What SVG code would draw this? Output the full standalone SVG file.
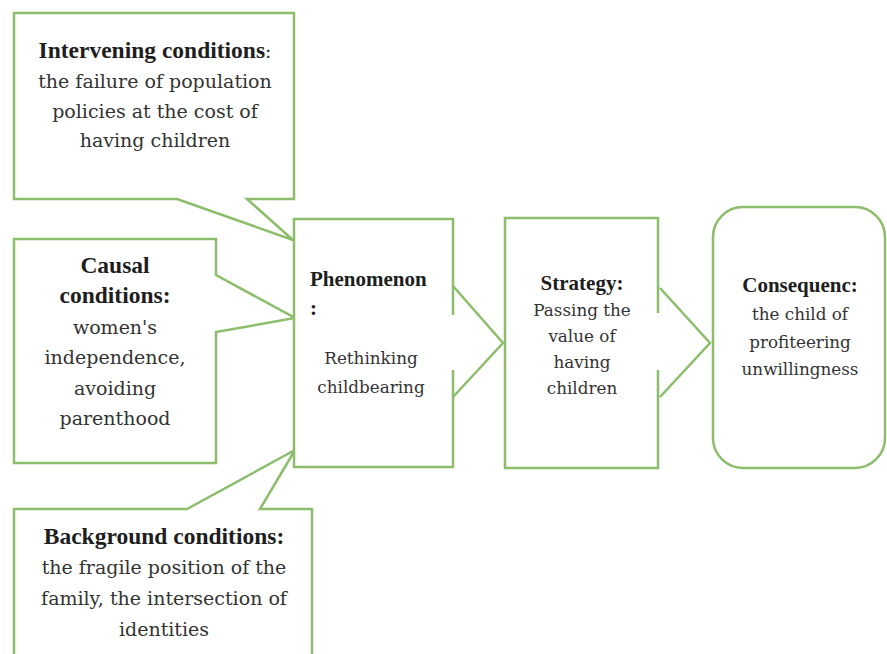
<svg xmlns="http://www.w3.org/2000/svg" width="887" height="654" viewBox="0 0 887 654">
<style>
.shape{fill:#ffffff;stroke:#8bbd6b;stroke-width:2.5;stroke-linejoin:miter}
.line{fill:none;stroke:#8bbd6b;stroke-width:2.5}
.t{fill:#333;font-family:"DejaVu Serif","Liberation Serif",serif}
.b{font-weight:bold;fill:#1e1e1e;font-family:"Liberation Serif","DejaVu Serif",serif}
.l{font-size:19px}
.s{font-size:16.8px}
.bl{font-size:23.5px}
.bs{font-size:21px}
.m{text-anchor:middle}
</style>
<rect width="887" height="654" fill="#ffffff"/>
<g id="intervening">
<path class="shape" d="M14,13 H294 V199 H247 L293,240 L177,199 H14 Z"/>
<text class="t l m" x="155"><tspan class="b bl" x="155" y="58">Intervening conditions</tspan><tspan>:</tspan><tspan x="155" y="88">the failure of population</tspan><tspan x="155" y="118">policies at the cost of</tspan><tspan x="155" y="147">having children</tspan></text>
</g>
<g id="causal">
<path class="shape" d="M14,239 H216 V275 L295,318 L216,332 V463 H14 Z"/>
<text class="t l m"><tspan class="b bl" x="115" y="273">Causal</tspan><tspan class="b bl" x="115" y="303">conditions:</tspan><tspan x="115" y="334">women's</tspan><tspan x="115" y="364">independence,</tspan><tspan x="115" y="395">avoiding</tspan><tspan x="115" y="425">parenthood</tspan></text>
</g>
<g id="background">
<path class="shape" d="M14,509 H187 L295,450 L260,509 H312 V662 H14 Z"/>
<text class="t l m"><tspan class="b bl" x="164" y="544">Background conditions:</tspan><tspan x="164" y="574">the fragile position of the</tspan><tspan x="164" y="605">family, the intersection of</tspan><tspan x="164" y="636">identities</tspan></text>
</g>
<g id="phenomenon">
<rect x="294" y="219" width="159" height="248" fill="#ffffff"/>
<path class="line" d="M453,315 V219 H294 V467 H453 V370"/>
<text class="b bs" x="310" y="286">Phenomenon</text>
<text class="b bs" x="310" y="315">:</text>
<text class="t s m"><tspan x="371" y="364">Rethinking</tspan><tspan x="371" y="393">childbearing</tspan></text>
</g>
<g id="strategy">
<rect x="505" y="218" width="153" height="250" fill="#ffffff"/>
<path class="line" d="M658,313 V218 H505 V468 H658 V370"/>
<text class="t s m"><tspan class="b bs" x="582" y="290">Strategy:</tspan><tspan x="582" y="316">Passing the</tspan><tspan x="582" y="342">value of</tspan><tspan x="582" y="368">having</tspan><tspan x="582" y="394">children</tspan></text>
</g>
<g id="consequence">
<rect class="shape" x="713" y="207" width="172" height="261" rx="30" ry="30"/>
<text class="t s m"><tspan class="b bs" x="800" y="292">Consequenc:</tspan><tspan x="800" y="320">the child of</tspan><tspan x="800" y="348">profiteering</tspan><tspan x="800" y="375">unwillingness</tspan></text>
</g>
<g id="connectors">
<path class="line" d="M453,286 L503,343 L453,397"/>
<path class="line" d="M660,288 L710,343 L660,397"/>
</g>
</svg>
